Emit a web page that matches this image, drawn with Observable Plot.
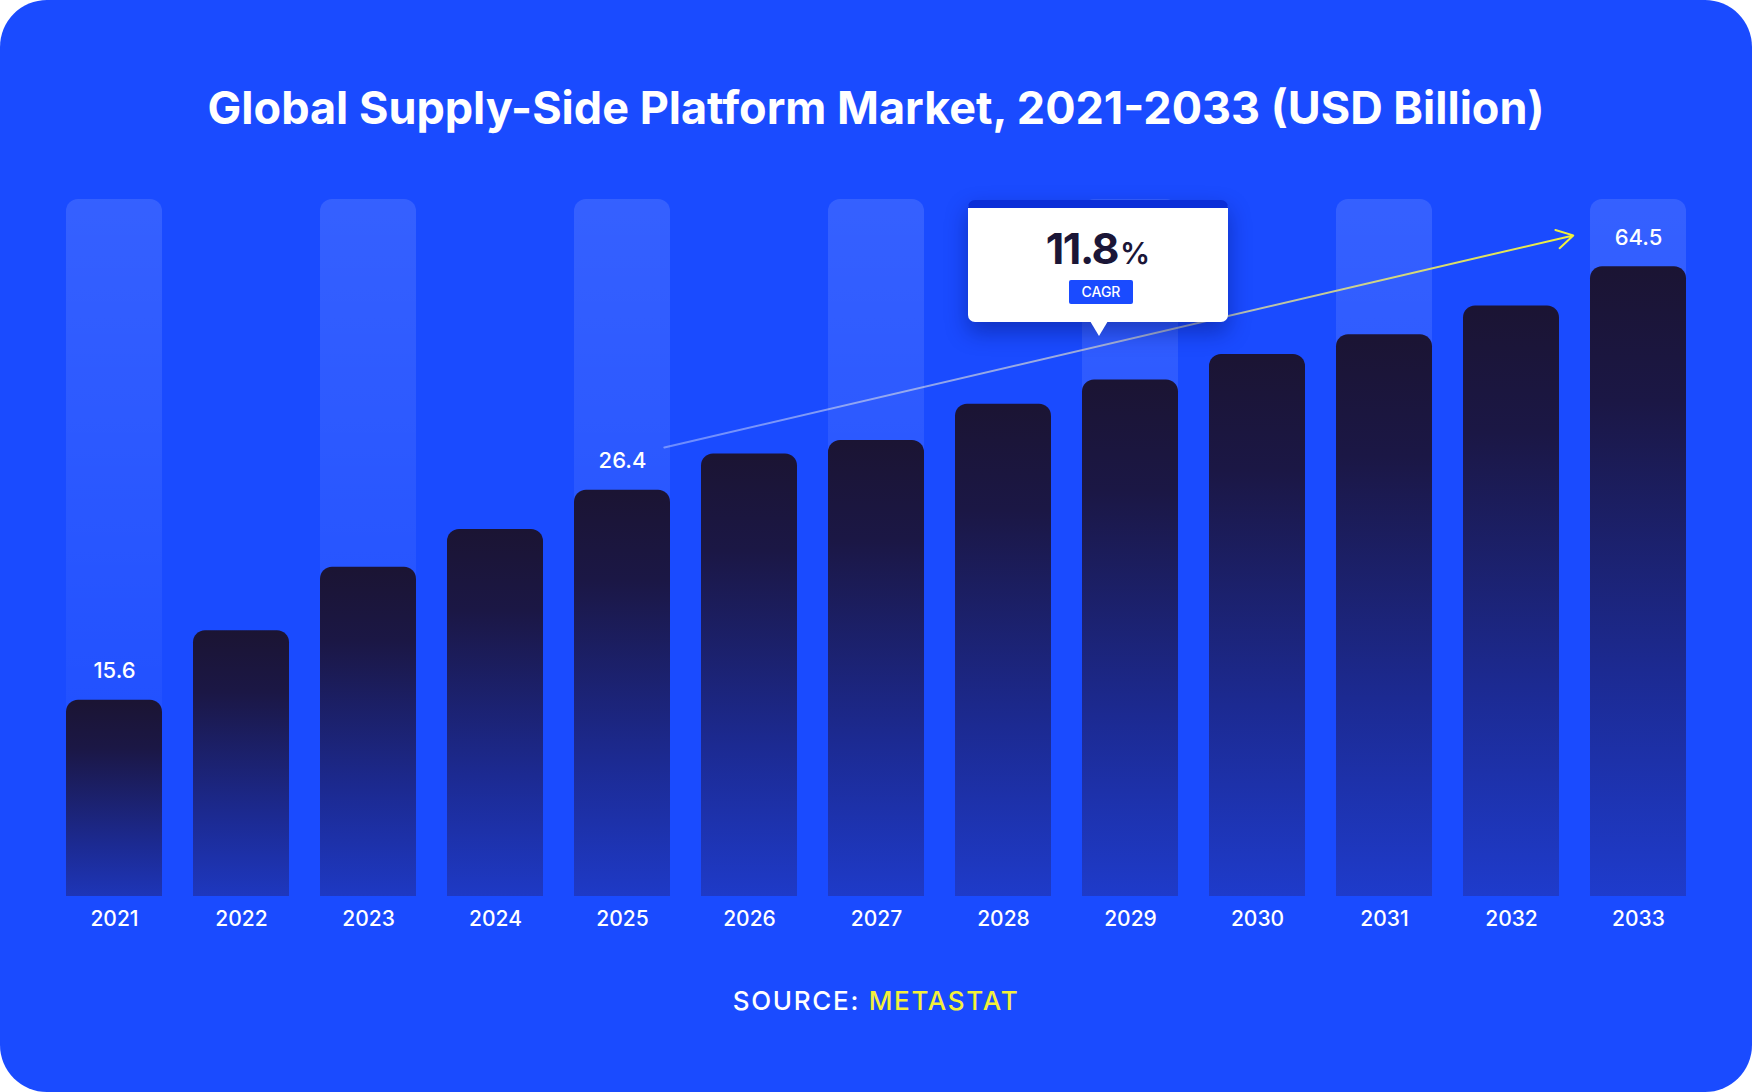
<!DOCTYPE html>
<html>
<head>
<meta charset="utf-8">
<script src="https://cdn.jsdelivr.net/npm/d3@7"></script>
<script src="https://cdn.jsdelivr.net/npm/@observablehq/plot@0.6"></script>
<style>
  html, body { margin: 0; padding: 0; background: #ffffff; }
  #card { position: relative; width: 1752px; height: 1092px; border-radius: 47px; background: #1a4bff; overflow: hidden; font-family: Inter, "Noto Sans", sans-serif; }
  #title { position: absolute; left: 0; right: 0; top: 80px; text-align: center; color: #ffffff; font-weight: 700; font-size: 45px; line-height: 56px; }
  #chart { position: absolute; left: 0; top: 0; }
  #source { position: absolute; left: 0; right: 0; top: 983px; text-align: center; color: #ffffff; font-weight: 500; font-size: 26px; line-height: 36px; letter-spacing: 1.7px; }
  #source span { color: #f3f03a; }
  #cagr { position: absolute; left: 968px; top: 200px; width: 260px; height: 114px; background: #ffffff; border-top: 8px solid #0b2ed8; border-radius: 7px; box-shadow: 0 10px 22px rgba(4, 18, 110, 0.45); }
  #cagrValue { position: absolute; left: 0; right: 0; top: 14px; text-align: center; line-height: 52px; color: #1b1637; font-weight: 700; font-size: 43px; letter-spacing: -1.5px; }
  #cagrValue small { font-size: 30px; font-weight: 600; letter-spacing: 0; margin-left: 2px; }
  #cagrBadge { position: absolute; left: 101px; top: 72px; width: 64px; height: 24px; background: #1a4bff; color: #ffffff; font-size: 14px; line-height: 24px; text-align: center; border-radius: 2px; font-weight: 500; }
  #pointer { position: absolute; left: 1090px; top: 321px; width: 0; height: 0; border-left: 9px solid transparent; border-right: 9px solid transparent; border-top: 15px solid #ffffff; }
</style>
</head>
<body>
<div id="card">
  <div id="chart"></div>
  <div id="title">Global Supply-Side Platform Market, 2021-2033 (USD Billion)</div>
  <div id="cagr"><div id="cagrValue">11.8<small>%</small></div><div id="cagrBadge">CAGR</div></div>
  <div id="pointer"></div>
  <div id="source">SOURCE: <span>METASTAT</span></div>
</div>
<script>
// ---- data ----
const years = ["2021", "2022", "2023", "2024", "2025", "2026", "2027", "2028", "2029", "2030", "2031", "2032", "2033"];
// bar heights as drawn in the reference
const barValues = [13.0, 17.6, 21.8, 24.3, 26.9, 29.3, 30.2, 32.6, 34.2, 35.9, 37.2, 39.1, 41.7];
// printed value labels
const valueLabels = ["15.6", "", "", "", "26.4", "", "", "", "", "", "", "", "64.5"];
// years with the lighter background column
const highlightYears = ["2021", "2023", "2025", "2027", "2029", "2031", "2033"];
const yMax = 46.16;

const data = years.map((year, i) => ({ year, value: barValues[i], label: valueLabels[i] }));

const svg = Plot.plot({
  width: 1752,
  height: 960,
  marginTop: 199,
  marginBottom: 64,
  marginLeft: 61,
  marginRight: 62,
  style: { background: "transparent", fontFamily: "Inter, sans-serif", fontSize: "21px", color: "#ffffff", overflow: "visible" },
  x: { type: "band", domain: years, paddingInner: 0.246, paddingOuter: 0, align: 0.5, label: null },
  y: { domain: [0, yMax], axis: null },
  marks: [
    Plot.barY(highlightYears, { x: d => d, y1: -3, y2: yMax, fill: "url(#lightGrad)", rx: 12, clip: true }),
    Plot.barY(data, { x: "year", y1: -3, y2: "value", fill: "url(#barGrad)", rx: 12, clip: true }),
    Plot.axisX({ tickSize: 0, tickPadding: 15, fontSize: 21, fontWeight: 500, fill: "#ffffff", label: null }),
    Plot.text(data.filter(d => d.label), { x: "year", y: "value", text: "label", dy: -29, fill: "#ffffff", fontSize: 22, fontWeight: 500 }),
    Plot.arrow([{ a: "2025", b: "2033", ya: 29.09, yb: 44.79 }], {
      x1: "a", y1: "ya", x2: "b", y2: "yb",
      insetStart: 43, insetEnd: 67,
      stroke: "url(#arrowGrad)", strokeWidth: 2, headLength: 14
    })
  ]
});

const defs = d3.select(svg).insert("defs", ":first-child");
const lg = defs.append("linearGradient").attr("id", "lightGrad").attr("x1", 0).attr("y1", 0).attr("x2", 0).attr("y2", 1);
lg.append("stop").attr("offset", "0").attr("stop-color", "#ffffff").attr("stop-opacity", 0.12);
lg.append("stop").attr("offset", "0.6").attr("stop-color", "#ffffff").attr("stop-opacity", 0.045);
lg.append("stop").attr("offset", "1").attr("stop-color", "#ffffff").attr("stop-opacity", 0.0);

const bg = defs.append("linearGradient").attr("id", "barGrad").attr("x1", 0).attr("y1", 0).attr("x2", 0).attr("y2", 1);
bg.append("stop").attr("offset", "0").attr("stop-color", "#1b1433");
bg.append("stop").attr("offset", "0.2").attr("stop-color", "#1b1745");
bg.append("stop").attr("offset", "0.6").attr("stop-color", "#1c2a92");
bg.append("stop").attr("offset", "1").attr("stop-color", "#1f3fd8");

const ag = defs.append("linearGradient").attr("id", "arrowGrad").attr("x1", 0).attr("y1", 0).attr("x2", 1).attr("y2", 0);
ag.append("stop").attr("offset", "0").attr("stop-color", "#ffffff").attr("stop-opacity", 0.35);
ag.append("stop").attr("offset", "0.5").attr("stop-color", "#d0d0c8").attr("stop-opacity", 0.75);
ag.append("stop").attr("offset", "1").attr("stop-color", "#f0f03a").attr("stop-opacity", 1);

document.getElementById("chart").appendChild(svg);
</script>
</body>
</html>
